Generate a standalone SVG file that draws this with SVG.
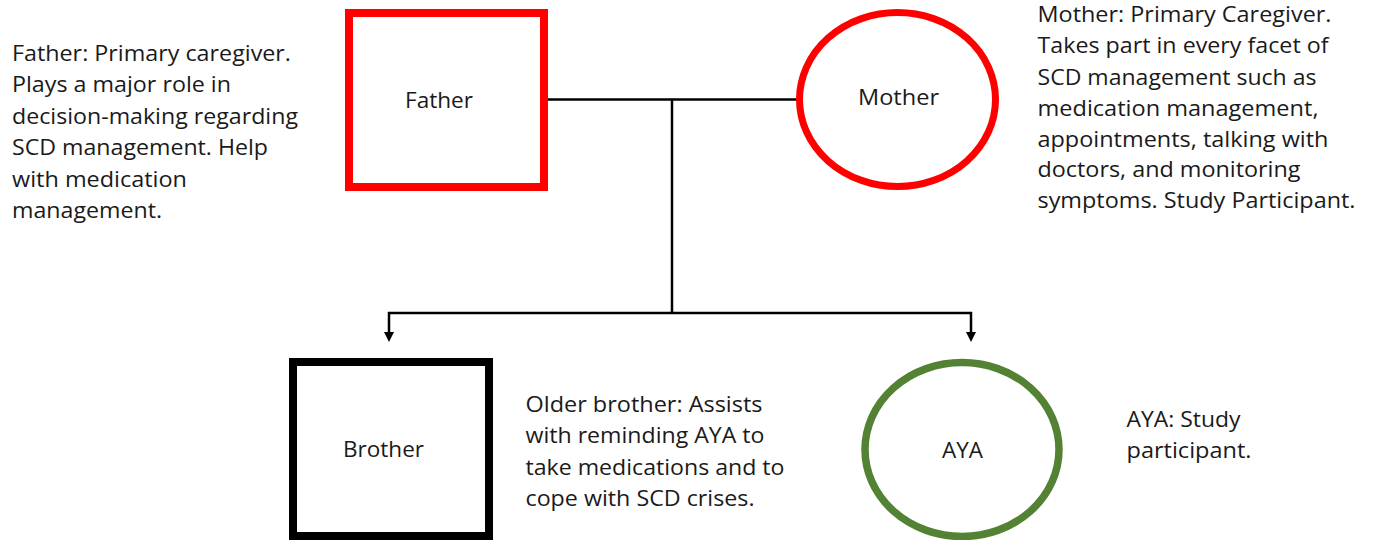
<svg xmlns="http://www.w3.org/2000/svg" width="1375" height="540" viewBox="0 0 1375 540">
<defs>
<style>
.t{font-family:"Open Sans","Liberation Sans",sans-serif;font-size:22px;fill:#1a1a1a}
.lbl{font-family:"Open Sans","Liberation Sans",sans-serif;font-size:22px;fill:#1a1a1a}
.ln{fill:none;stroke:#000;stroke-width:2.5}
</style>
<marker id="arr" markerUnits="userSpaceOnUse" markerWidth="11" markerHeight="10" viewBox="0 0 10 10" refX="0" refY="5" orient="auto">
<path d="M0,0 L10,5 L0,10 z" fill="#000"/>
</marker>
</defs>
<rect width="1375" height="540" fill="#fff"/>
<g id="connectors">
<path class="ln" d="M548,99.5 H797"/>
<path class="ln" d="M672,99.5 V313"/>
<path class="ln" d="M672,313 H389 V332" marker-end="url(#arr)"/>
<path class="ln" d="M672,313 H971 V332" marker-end="url(#arr)"/>
</g>
<g id="father">
<rect x="349" y="13" width="195" height="174" fill="#fff" stroke="#ff0000" stroke-width="8"/>
<text class="lbl" x="405" y="108" textLength="68" lengthAdjust="spacingAndGlyphs">Father</text>
</g>
<g id="mother">
<ellipse cx="897.5" cy="99.5" rx="98" ry="87" fill="#fff" stroke="#ff0000" stroke-width="7"/>
<text class="lbl" x="858" y="105" textLength="81" lengthAdjust="spacingAndGlyphs">Mother</text>
</g>
<g id="brother">
<rect x="293" y="362" width="196" height="174" fill="#fff" stroke="#000" stroke-width="8"/>
<text class="lbl" x="343" y="457" textLength="81" lengthAdjust="spacingAndGlyphs">Brother</text>
</g>
<g id="aya">
<ellipse cx="962" cy="449.5" rx="97" ry="87" fill="#fff" stroke="#548235" stroke-width="7.5"/>
<text class="lbl" x="942" y="458" textLength="41" lengthAdjust="spacingAndGlyphs">AYA</text>
</g>
<g id="father-note" class="t">
<text x="12" y="60.5" textLength="279" lengthAdjust="spacingAndGlyphs">Father: Primary caregiver.</text>
<text x="12" y="92" textLength="219" lengthAdjust="spacingAndGlyphs">Plays a major role in</text>
<text x="12" y="123.5" textLength="286" lengthAdjust="spacingAndGlyphs">decision-making regarding</text>
<text x="12" y="155" textLength="256" lengthAdjust="spacingAndGlyphs">SCD management. Help</text>
<text x="12" y="186.5" textLength="175" lengthAdjust="spacingAndGlyphs">with medication</text>
<text x="12" y="218" textLength="150" lengthAdjust="spacingAndGlyphs">management.</text>
</g>
<g id="mother-note" class="t">
<text x="1037.5" y="22" textLength="294" lengthAdjust="spacingAndGlyphs">Mother: Primary Caregiver.</text>
<text x="1037.5" y="53" textLength="291" lengthAdjust="spacingAndGlyphs">Takes part in every facet of</text>
<text x="1037.5" y="84.5" textLength="279" lengthAdjust="spacingAndGlyphs">SCD management such as</text>
<text x="1037.5" y="115.5" textLength="281" lengthAdjust="spacingAndGlyphs">medication management,</text>
<text x="1037.5" y="146.5" textLength="291" lengthAdjust="spacingAndGlyphs">appointments, talking with</text>
<text x="1037.5" y="177" textLength="263" lengthAdjust="spacingAndGlyphs">doctors, and monitoring</text>
<text x="1037.5" y="208" textLength="318" lengthAdjust="spacingAndGlyphs">symptoms. Study Participant.</text>
</g>
<g id="brother-note" class="t">
<text x="525.5" y="411.5" textLength="237" lengthAdjust="spacingAndGlyphs">Older brother: Assists</text>
<text x="525.5" y="443" textLength="239" lengthAdjust="spacingAndGlyphs">with reminding AYA to</text>
<text x="525.5" y="474.5" textLength="259" lengthAdjust="spacingAndGlyphs">take medications and to</text>
<text x="525.5" y="505.5" textLength="229" lengthAdjust="spacingAndGlyphs">cope with SCD crises.</text>
</g>
<g id="aya-note" class="t">
<text x="1126.5" y="426.5" textLength="114" lengthAdjust="spacingAndGlyphs">AYA: Study</text>
<text x="1126.5" y="458" textLength="125" lengthAdjust="spacingAndGlyphs">participant.</text>
</g>
</svg>
